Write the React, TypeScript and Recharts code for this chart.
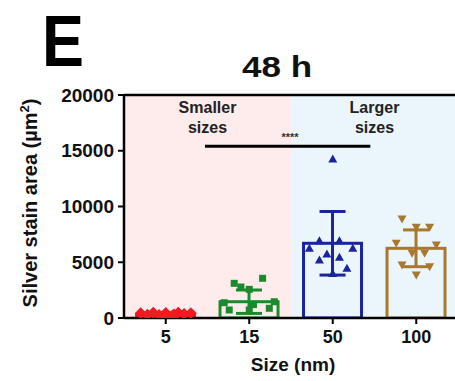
import React from 'react'
import { ComposedChart, Bar, Scatter, XAxis, YAxis, ReferenceArea, ReferenceLine } from 'recharts'

// group summary (mean, SD)
const sizes = ['5', '15', '50', '100']
const means = [300, 1460, 6700, 6250]
const sds = [150, 1050, 2850, 1650]
const colors = ['#f01a20', '#1a8a2c', '#1a249c', '#a8782e']

// individual points per group, with a small horizontal spread (category units)
const pts5 = [420, 460, 440, 470, 430, 300, 260, 220, 350, 180, 320]
const jit5 = [-0.3, -0.15, 0, 0.15, 0.3, -0.22, -0.08, 0.08, 0.22, 0, 0.1]
const pts15 = [3560, 3110, 2780, 2570, 1460, 1370, 1200, 870, 720, 720]
const jit15 = [0.16, -0.18, -0.1, 0, 0.3, -0.3, 0.05, 0.24, -0.24, 0]
const pts50 = [14260, 6930, 6930, 6250, 6250, 5740, 5440, 5200, 4460, 4000]
const jit50 = [0, -0.16, 0.08, 0.24, -0.28, -0.07, 0.08, -0.16, 0.17, 0]
const pts100 = [8880, 8130, 8130, 6700, 6550, 5800, 5800, 4750, 4600, 3860]
const jit100 = [-0.17, 0, 0.16, -0.24, 0.24, -0.05, 0.1, -0.17, 0.16, 0]

const yTicks = [0, 5000, 10000, 15000, 20000]

const barData = sizes.map((s, i) => ({ size: s, mean: means[i], sd: sds[i] }))
const toPts = (vals: number[], jit: number[], i: number) => vals.map((v, k) => ({ x: i + jit[k], y: v }))

const font = '"Liberation Sans", Arial, sans-serif'

const Diamond = (p: any) => (
  <path d={`M${p.cx},${p.cy - 6}L${p.cx + 6},${p.cy}L${p.cx},${p.cy + 6}L${p.cx - 6},${p.cy}Z`} fill={colors[0]} />
)
const Square = (p: any) => <rect x={p.cx - 3.5} y={p.cy - 3.5} width={7} height={7} fill={colors[1]} />
const TriUp = (p: any) => (
  <path d={`M${p.cx},${p.cy - 4.5}L${p.cx + 4.5},${p.cy + 3.5}L${p.cx - 4.5},${p.cy + 3.5}Z`} fill={colors[2]} />
)
const TriDown = (p: any) => (
  <path d={`M${p.cx},${p.cy + 4.5}L${p.cx + 4.5},${p.cy - 3.5}L${p.cx - 4.5},${p.cy - 3.5}Z`} fill={colors[3]} />
)

// open bar + SD whiskers in the group's colour; px per unit comes from the bar's own scaled height
const MeanSdBar = (p: any) => {
  const c = colors[p.index]
  const k = p.height / p.payload.mean
  const cx = p.x + p.width / 2
  const up = p.y - p.payload.sd * k
  const lo = p.y + p.payload.sd * k
  return (
    <g>
      <rect x={p.x} y={p.y} width={p.width} height={p.height} fill="none" stroke={c} strokeWidth={3} />
      <line x1={cx} x2={cx} y1={up} y2={lo} stroke={c} strokeWidth={3} />
      <line x1={cx - 13} x2={cx + 13} y1={up} y2={up} stroke={c} strokeWidth={3} />
      <line x1={cx - 13} x2={cx + 13} y1={lo} y2={lo} stroke={c} strokeWidth={3} />
    </g>
  )
}

const areaLabel = (lines: string[]) => (props: any) => {
  const { x, y, width } = props.viewBox
  const cx = x + width / 2
  return (
    <text x={cx} y={y + 18} textAnchor="middle" fontFamily={font} fontWeight="bold" fontSize={16} fill="#222">
      <tspan x={cx} dy={0}>{lines[0]}</tspan>
      <tspan x={cx} dy={20}>{lines[1]}</tspan>
    </text>
  )
}

export default function App() {
  return (
    <div style={{ position: 'absolute', left: 0, top: 0, width: 455, height: 381, overflow: 'hidden', background: '#fff' }}>
      <svg width={455} height={90} style={{ position: 'absolute', left: 0, top: 0 }}>
        <text x={42} y={66} fontFamily={font} fontWeight="bold" fontSize={72} textLength={42} lengthAdjust="spacingAndGlyphs" fill="#000">E</text>
        <text x={242} y={77} fontFamily={font} fontWeight="bold" fontSize={30} textLength={70} lengthAdjust="spacingAndGlyphs" fill="#111">48 h</text>
      </svg>
      <ComposedChart width={462} height={381} data={barData} margin={{ top: 95, right: 4, bottom: 14, left: 0 }} barCategoryGap="15%">
        <XAxis xAxisId="cat" dataKey="size" type="category" height={49}
          axisLine={{ stroke: '#000', strokeWidth: 2.5 }} tickLine={{ stroke: '#000', strokeWidth: 2 }} tickSize={6} tickMargin={6}
          tick={{ fill: '#111', fontFamily: font, fontWeight: 'bold', fontSize: 18 }}
          label={{ content: (p: any) => (
            <text x={293} y={371} textAnchor="middle" fontFamily={font} fontWeight="bold" fontSize={19} fill="#111">Size (nm)</text>
          ) }} />
        <XAxis xAxisId="num" dataKey="x" type="number" domain={[-0.5, 3.5]} hide allowDataOverflow />
        <YAxis dataKey="y" domain={[0, 20000]} ticks={yTicks} width={124} allowDataOverflow
          axisLine={{ stroke: '#000', strokeWidth: 2.5 }} tickLine={{ stroke: '#000', strokeWidth: 2 }} tickSize={6} tickMargin={4}
          tick={{ fill: '#111', fontFamily: font, fontWeight: 'bold', fontSize: 19 }}
          label={{ content: () => (
            <text x={0} y={0} transform="translate(37,203) rotate(-90)" textAnchor="middle" fontFamily={font} fontWeight="bold" fontSize={20} fill="#111">
              Silver stain area (µm<tspan dy={-8} fontSize={13}>2</tspan><tspan dy={8}>)</tspan>
            </text>
          ) }} />
        <ReferenceArea xAxisId="num" x1={-0.5} x2={1.5} fill="#fdeceb" fillOpacity={1} stroke="none" label={{ content: areaLabel(['Smaller', 'sizes']) }} />
        <ReferenceArea xAxisId="num" x1={1.5} x2={3.5} fill="#eaf6fb" fillOpacity={1} stroke="none" label={{ content: areaLabel(['Larger', 'sizes']) }} />
        <ReferenceLine xAxisId="num" y={20000} stroke="#000" strokeWidth={2.5} />
        <Bar xAxisId="cat" dataKey="mean" fill="none" isAnimationActive={false} shape={MeanSdBar} />
        <Scatter xAxisId="num" data={toPts(pts5, jit5, 0)} shape={Diamond} isAnimationActive={false} />
        <Scatter xAxisId="num" data={toPts(pts15, jit15, 1)} shape={Square} isAnimationActive={false} />
        <Scatter xAxisId="num" data={toPts(pts50, jit50, 2)} shape={TriUp} isAnimationActive={false} />
        <Scatter xAxisId="num" data={toPts(pts100, jit100, 3)} shape={TriDown} isAnimationActive={false} />
        <ReferenceLine xAxisId="num" segment={[{ x: 0.47, y: 15400 }, { x: 2.45, y: 15400 }]} stroke="#000" strokeWidth={3}
          label={{ content: (p: any) => (
            <text x={290} y={p.viewBox.y - 5} textAnchor="middle" fontFamily={font} fontWeight="bold" fontSize={11} fill="#333">****</text>
          ) }} />
      </ComposedChart>
    </div>
  )
}
